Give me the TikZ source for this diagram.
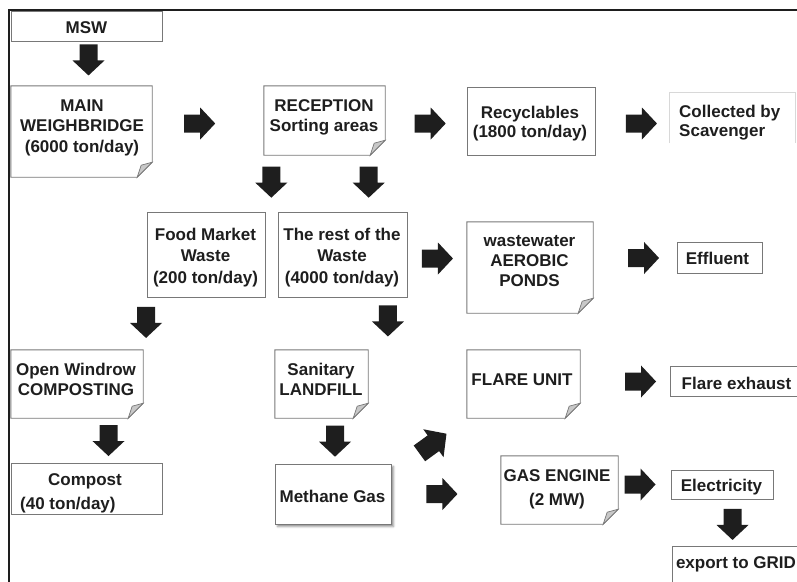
\documentclass[tikz,border=0pt]{standalone}
\usepackage{fontspec}
\setmainfont{Liberation Sans}
\usetikzlibrary{calc,shadows.blur}

\definecolor{ink}{HTML}{1E1E1E}
\definecolor{edge}{HTML}{787878}
\definecolor{curl}{HTML}{C8C8C8}
\definecolor{faint}{HTML}{D8D8D8}

\tikzset{
  % fat block arrow pointing along +x, 31 long, head 32 wide, shaft 18 wide
  fatarrow/.pic={
    \fill[ink] (-15.5,-9) -- (0.5,-9) -- (0.5,-16) -- (15.5,0)
               -- (0.5,16) -- (0.5,9) -- (-15.5,9) -- cycle;
  },
  box/.style={draw=edge, line width=0.9pt, fill=white, inner sep=0pt},
  ghost/.style={draw=none, inner sep=0pt},
  lbl/.style={text=ink, font=\fontsize{17}{20.5}\selectfont\bfseries,
              align=center, inner sep=0pt},
  fold/.style={draw=edge, line width=0.9pt, fill=white, line join=miter},
  curlstyle/.style={draw=edge, line width=0.7pt, fill=curl},
  rule/.style={draw=ink, line width=2pt},
}

\begin{document}
\begin{tikzpicture}[x=1pt,y=-1pt]
\useasboundingbox (0,0) rectangle (797,581);

% outer rule along the top and left
\draw[rule] (9,600) -- (9,10) -- (810,10);

% ---------- boxes ----------
\node[box, minimum width=151pt, minimum height=30pt] (msw) at (86.5,26) {};
\node[ghost, minimum width=141pt, minimum height=91pt] (weigh) at (81.5,131.5) {};
\node[ghost, minimum width=121pt, minimum height=69pt] (recep) at (324.5,120.5) {};
\node[box, minimum width=128pt, minimum height=68pt] (recyc) at (531,121) {};
\node[ghost, minimum width=125pt, minimum height=50pt] (scav) at (732.5,118) {};
\node[box, minimum width=118pt, minimum height=85pt] (food) at (206,254.5) {};
\node[box, minimum width=129pt, minimum height=85pt] (rest) at (342.5,254.5) {};
\node[ghost, minimum width=126pt, minimum height=91pt] (ponds) at (530,267.5) {};
\node[box, minimum width=85pt, minimum height=31pt] (effl) at (719.5,257.5) {};
\node[ghost, minimum width=132pt, minimum height=68pt] (windrow) at (77,384) {};
\node[ghost, minimum width=93pt, minimum height=68pt] (landfill) at (321.5,384) {};
\node[ghost, minimum width=113pt, minimum height=68pt] (flare) at (523.5,384) {};
\node[box, minimum width=135pt, minimum height=30pt] (exhaust) at (737.5,381) {};
\node[box, minimum width=151pt, minimum height=51pt] (compost) at (86.5,488.5) {};
\node[box, minimum width=116pt, minimum height=60pt,
      blur shadow={shadow xshift=2.5pt, shadow yshift=-2.5pt,
                   shadow blur radius=2pt, shadow opacity=45}] (methane) at (333,494) {};
\node[ghost, minimum width=117pt, minimum height=68pt] (engine) at (559.5,490) {};
\node[box, minimum width=102pt, minimum height=29pt] (elec) at (722,484.5) {};
\node[box, minimum width=138pt, minimum height=54pt] (grid) at (741,573) {};

% sheets with a curled lower right corner
\foreach \n in {weigh,recep,ponds,windrow,landfill,flare,engine}{
  \draw[fold] (\n.south west) -- (\n.north west) -- (\n.north east)
    -- ([yshift=15pt]\n.south east) -- ([xshift=-15pt]\n.south east) -- cycle;
  \draw[curlstyle] ([yshift=15pt]\n.south east) -- ([xshift=-15pt]\n.south east)
    -- ([xshift=-11pt,yshift=12pt]\n.south east) -- cycle;
}

% faint open frame round the scavenger box
\draw[faint, line width=1pt] (scav.south west) -- (scav.north west)
  -- (scav.north east) -- (scav.south east);

% ---------- labels ----------
\node[lbl] (tmsw) at (86.5,27.5) {MSW};
\node[lbl] (tweigh) at (82,127.8) {MAIN\\WEIGHBRIDGE\\(6000 ton/day)};
\node[lbl] (trecep) at (324,117.5) {RECEPTION\\Sorting areas};
\node[lbl, font=\fontsize{17}{19}\selectfont\bfseries] (trecyc) at (530,123.3)
  {Recyclables\\(1800 ton/day)};
\node[lbl, align=left, anchor=west, font=\fontsize{17}{19}\selectfont\bfseries]
  (tscav) at (679,122.3) {Collected by\\Scavenger};
\node[lbl, font=\fontsize{17}{21.5}\selectfont\bfseries] (tfood) at (205.5,257.3)
  {Food Market\\Waste\\(200 ton/day)};
\node[lbl, font=\fontsize{17}{21.5}\selectfont\bfseries] (trest) at (342,257.3)
  {The rest of the\\Waste\\(4000 ton/day)};
\node[lbl, font=\fontsize{17}{20}\selectfont\bfseries] (tponds) at (529.5,261)
  {wastewater\\AEROBIC\\PONDS};
\node[lbl] (teffl) at (717.5,258.5) {Effluent};
\node[lbl] (twindrow) at (76,379.3) {Open Windrow\\COMPOSTING};
\node[lbl] (tlandfill) at (321,379.3) {Sanitary\\LANDFILL};
\node[lbl] (tflare) at (522,380) {FLARE UNIT};
\node[lbl] (texhaust) at (736.5,383) {Flare exhaust};
\node[lbl, align=left, anchor=west, font=\fontsize{17}{23.5}\selectfont\bfseries]
  (tcompost) at (20,493.5) {\hspace*{28pt}Compost\\(40 ton/day)};
\node[lbl] (tmethane) at (332.5,496.5) {Methane Gas};
\node[lbl, font=\fontsize{17}{23.5}\selectfont\bfseries] (tengine) at (557,489.5)
  {GAS ENGINE\\(2 MW)};
\node[lbl] (telec) at (721.5,487) {Electricity};
\node[lbl] (tgrid) at (736,564.2) {export to GRID};

% ---------- block arrows between the stages ----------
\pic[rotate=-90] at ($(msw.south)+(2,18.5)$) {fatarrow};
\pic at ($(weigh.east)+(47.5,-8)$) {fatarrow};
\pic at ($(recep.east)+(45,3)$) {fatarrow};
\pic at ($(recyc.east)+(46,2.5)$) {fatarrow};
\pic[rotate=-90] at ($(recep.south west)+(7.5,27)$) {fatarrow};
\pic[rotate=-90] at ($(recep.south east)+(-16.5,27)$) {fatarrow};
\pic at ($(rest.east)+(30,4)$) {fatarrow};
\pic at ($(effl.west)+(-33,0.5)$) {fatarrow};
\pic[rotate=-90] at ($(food.south west)+(-0.5,25)$) {fatarrow};
\pic[rotate=-90] at ($(rest.south east)+(-19.5,23.5)$) {fatarrow};
\pic[rotate=-90] at ($(compost.north)+(22,-22)$) {fatarrow};
\pic[rotate=-90] at ($(landfill.south)+(13.5,23)$) {fatarrow};
\pic at ($(exhaust.west)+(-29,0.5)$) {fatarrow};
\pic[rotate=36, scale=1.08] at ($(methane.north east)+(41.5,-20)$) {fatarrow};
\pic at ($(methane.east)+(50.5,0)$) {fatarrow};
\pic at ($(elec.west)+(-30.5,0)$) {fatarrow};
\pic[rotate=-90] at ($(elec.south)+(10.5,25)$) {fatarrow};
\end{tikzpicture}
\end{document}
